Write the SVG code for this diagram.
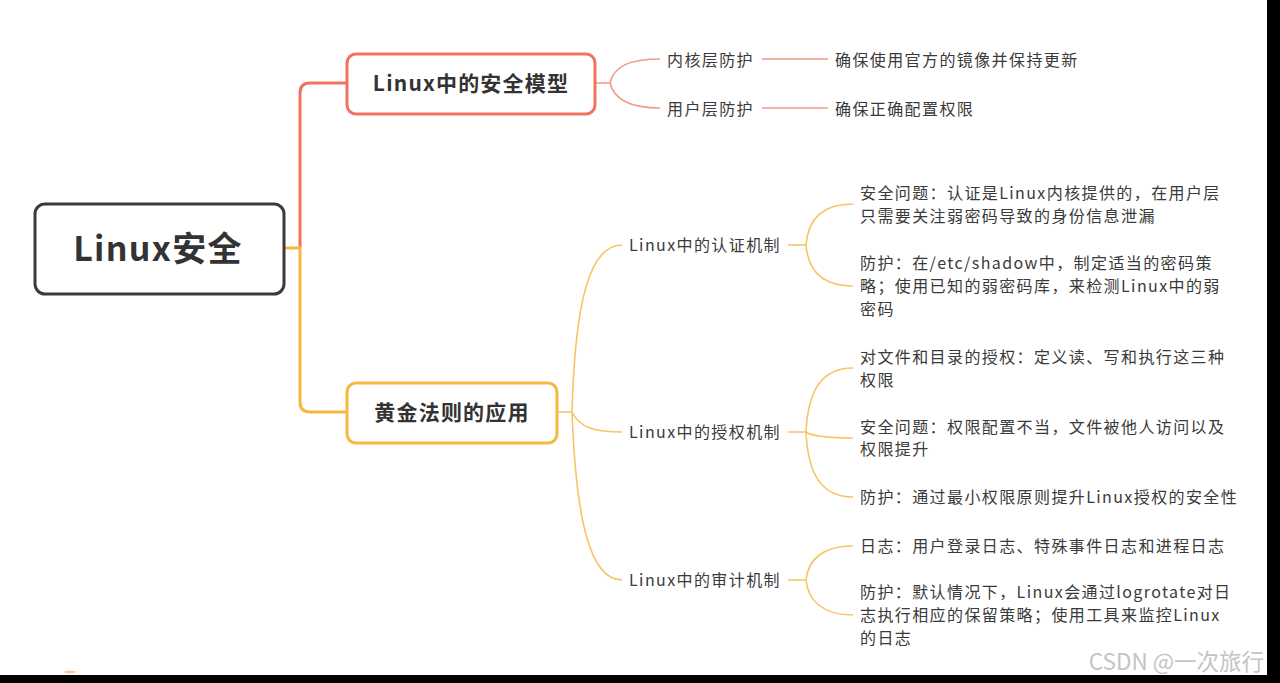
<svg xmlns="http://www.w3.org/2000/svg" width="1280" height="683" viewBox="0 0 1280 683">
<style>
.t{font-family:"Noto Sans CJK SC","Noto Sans",sans-serif;font-size:16px;fill:#3a3a3a;letter-spacing:1.4px}
.b{font-family:"Noto Sans CJK SC","Noto Sans",sans-serif;font-size:21px;font-weight:bold;fill:#333;letter-spacing:1.2px}
.r{fill:none;stroke:#ef7460;stroke-width:3}
.o{fill:none;stroke:#f6b940;stroke-width:3}
.rt{fill:none;stroke:#f29a88;stroke-width:1.6}
.ot{fill:none;stroke:#f8c464;stroke-width:1.6}
</style>
<rect width="1280" height="683" fill="#fff"/>
<g id="connectors">
<path class="r" d="M300,248 V93 Q300,83 310,83 H347"/>
<path class="o" d="M284,248 H300 V402 Q300,412 310,412 H347"/>
<path class="rt" d="M595,83 H610 C614,66 630,59 660,59 M610,83 C614,100 630,108 660,108 M762,59 H828 M762,108 H828"/>
<path class="ot" d="M557,412 H572 C575,300 590,245 622,245 M572,412 C580,428 595,432 622,432 M572,412 C576,520 590,580 622,580"/>
<path class="ot" d="M788,245 H806 C808,220 822,204 853,204 M806,245 C808,270 822,286 853,286"/>
<path class="ot" d="M788,432 H806 C808,390 822,368 853,368 M806,432 C812,436 830,438 853,438 M806,432 C808,475 822,497 853,497"/>
<path class="ot" d="M788,580 H806 C808,560 822,546 853,546 M806,580 C808,600 822,615 853,615"/>
</g>
<g id="root">
<rect x="35" y="204" width="249" height="90" rx="10" fill="#fff" stroke="#3b3b3b" stroke-width="3"/>
<text x="158" y="261" text-anchor="middle" style="font-family:'Noto Sans CJK SC','Noto Sans',sans-serif;font-size:34px;font-weight:bold;fill:#333;letter-spacing:1.3px">Linux安全</text>
</g>
<g id="model">
<rect x="347" y="54" width="248" height="60" rx="9" fill="#fff" stroke="#ef7460" stroke-width="3"/>
<text class="b" x="471" y="91" text-anchor="middle">Linux中的安全模型</text>
</g>
<g id="golden">
<rect x="347" y="383" width="210" height="60" rx="9" fill="#fff" stroke="#f6b940" stroke-width="3"/>
<text class="b" x="452" y="420" text-anchor="middle">黄金法则的应用</text>
</g>
<g id="kernel"><text class="t" x="667" y="66">内核层防护</text></g>
<g id="user"><text class="t" x="667" y="115">用户层防护</text></g>
<g id="kernel-leaf"><text class="t" x="835" y="66">确保使用官方的镜像并保持更新</text></g>
<g id="user-leaf"><text class="t" x="835" y="115">确保正确配置权限</text></g>
<g id="auth"><text class="t" x="629" y="251">Linux中的认证机制</text></g>
<g id="authz"><text class="t" x="629" y="438">Linux中的授权机制</text></g>
<g id="audit"><text class="t" x="629" y="586">Linux中的审计机制</text></g>
<g id="auth-1"><text class="t" x="860" y="199">安全问题：认证是Linux内核提供的，在用户层</text><text class="t" x="860" y="222">只需要关注弱密码导致的身份信息泄漏</text></g>
<g id="auth-2"><text class="t" x="860" y="269">防护：在/etc/shadow中，制定适当的密码策</text><text class="t" x="860" y="292">略；使用已知的弱密码库，来检测Linux中的弱</text><text class="t" x="860" y="315">密码</text></g>
<g id="authz-1"><text class="t" x="860" y="363">对文件和目录的授权：定义读、写和执行这三种</text><text class="t" x="860" y="386">权限</text></g>
<g id="authz-2"><text class="t" x="860" y="433">安全问题：权限配置不当，文件被他人访问以及</text><text class="t" x="860" y="455">权限提升</text></g>
<g id="authz-3"><text class="t" x="860" y="503">防护：通过最小权限原则提升Linux授权的安全性</text></g>
<g id="audit-1"><text class="t" x="860" y="552">日志：用户登录日志、特殊事件日志和进程日志</text></g>
<g id="audit-2"><text class="t" x="860" y="598">防护：默认情况下，Linux会通过logrotate对日</text><text class="t" x="860" y="621">志执行相应的保留策略；使用工具来监控Linux</text><text class="t" x="860" y="644">的日志</text></g>
<ellipse cx="70" cy="672" rx="6" ry="1.5" fill="#f6b56a" opacity="0.7"/>
<text x="1264" y="670" text-anchor="end" style="font-family:'Noto Sans CJK SC','Noto Sans',sans-serif;font-size:22.5px;fill:#c4c4c4">CSDN @一次旅行</text>
<rect x="1267" y="0" width="13" height="683" fill="#000"/>
<rect x="0" y="675" width="1280" height="8" fill="#000"/>
</svg>
